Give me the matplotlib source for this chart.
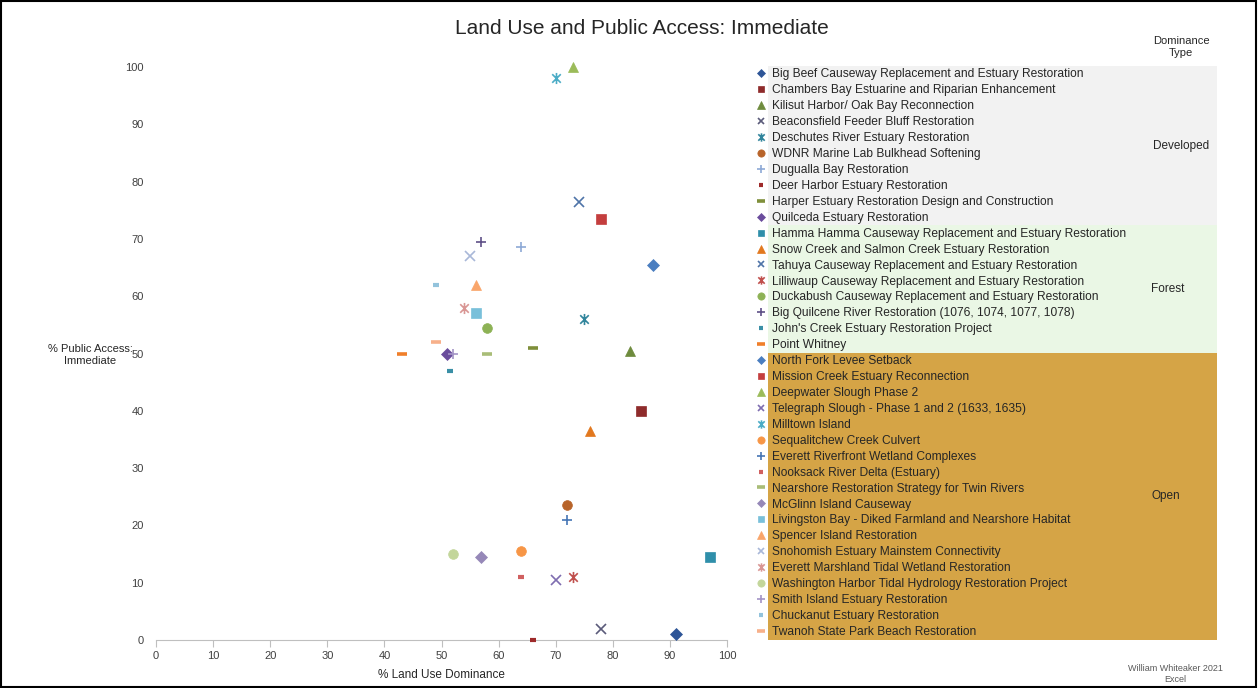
import matplotlib
matplotlib.use("Agg")
import matplotlib.pyplot as plt
from matplotlib.lines import Line2D
from matplotlib.patches import Rectangle
from matplotlib.path import Path

plt.rcParams['font.family'] = ['Liberation Sans', 'DejaVu Sans']

# projects, grouped by dominance type
projects = [
    "Big Beef Causeway Replacement and Estuary Restoration",
    "Chambers Bay Estuarine and Riparian Enhancement",
    "Kilisut Harbor/ Oak Bay Reconnection",
    "Beaconsfield Feeder Bluff Restoration",
    "Deschutes River Estuary Restoration",
    "WDNR Marine Lab Bulkhead Softening",
    "Dugualla Bay Restoration",
    "Deer Harbor Estuary Restoration",
    "Harper Estuary Restoration Design and Construction",
    "Quilceda Estuary Restoration",
    "Hamma Hamma Causeway Replacement and Estuary Restoration",
    "Snow Creek and Salmon Creek Estuary Restoration",
    "Tahuya Causeway Replacement and Estuary Restoration",
    "Lilliwaup Causeway Replacement and Estuary Restoration",
    "Duckabush Causeway Replacement and Estuary Restoration",
    "Big Quilcene River Restoration (1076, 1074, 1077, 1078)",
    "John's Creek Estuary Restoration Project",
    "Point Whitney",
    "North Fork Levee Setback",
    "Mission Creek Estuary Reconnection",
    "Deepwater Slough Phase 2",
    "Telegraph Slough - Phase 1 and 2 (1633, 1635)",
    "Milltown Island",
    "Sequalitchew Creek Culvert",
    "Everett Riverfront Wetland Complexes",
    "Nooksack River Delta (Estuary)",
    "Nearshore Restoration Strategy for Twin Rivers",
    "McGlinn Island Causeway",
    "Livingston Bay - Diked Farmland and Nearshore Habitat",
    "Spencer Island Restoration",
    "Snohomish Estuary Mainstem Connectivity",
    "Everett Marshland Tidal Wetland Restoration",
    "Washington Harbor Tidal Hydrology Restoration Project",
    "Smith Island Estuary Restoration",
    "Chuckanut Estuary Restoration",
    "Twanoh State Park Beach Restoration",
]
dominance_types = ["Developed", "Forest", "Open"]
dominance_counts = [10, 8, 18]

land_use = [91, 85, 83, 78, 75, 72, 64, 66, 66, 51,
            97, 76, 74, 73, 58, 57, 51.5, 43,
            87, 78, 73, 70, 70, 64, 72, 64, 58, 57, 56, 56, 55, 54, 52, 52, 49, 49]
public_access = [1, 40, 50.5, 2, 56, 23.5, 68.5, 0, 51, 50,
                 14.5, 36.5, 76.5, 11, 54.5, 69.5, 47, 50,
                 65.5, 73.5, 100, 10.5, 98, 15.5, 21, 11, 50, 14.5, 57, 62, 67, 58, 15, 50, 62, 52]

colors = ["#2E5597", "#8E2B2B", "#6E8B3D", "#5B5B7A", "#31859C", "#B8642A",
          "#8EA9D6", "#9E2A2A", "#7F8F3A", "#6A4C9C",
          "#2F8FAA", "#E2781E", "#4F74A8", "#C0504D", "#8DB255", "#5F5087",
          "#3A8FA6", "#F07F2A",
          "#4A7EC0", "#C43E3E", "#9BBB59", "#7E6DB0", "#4BACC6", "#F79646",
          "#4676B5", "#D06060", "#A9BD77", "#9688B8", "#79C0DA", "#F9A56A",
          "#A9B8D8", "#D99694", "#C3D69B", "#A394C6", "#93C3DC", "#F7B08A"]
band_colors = ["#F2F2F2", "#EAF7E5", "#D5A446"]

# excel-style star: an x with a vertical stroke
star = Path([(-1, -1), (1, 1), (-1, 1), (1, -1), (0, -1.3), (0, 1.3)],
            [Path.MOVETO, Path.LINETO, Path.MOVETO, Path.LINETO, Path.MOVETO, Path.LINETO])

# (marker, size, edge width, filled)
marker_cycle = [("D", 6.0, 0.5, True), ("s", 6.5, 0.5, True), ("^", 7.0, 0.5, True),
                ("x", 6.5, 1.2, False), (star, 8.0, 1.2, False), ("o", 7.0, 0.5, True),
                ("+", 7.5, 1.2, False), ("_", 4.0, 3.0, False), ("_", 7.0, 2.6, False)]

W, H = 1259, 688
fig = plt.figure(figsize=(W / 100, H / 100), dpi=100)
ax = fig.add_axes([156 / W, 1 - 640 / H, 571 / W, 573 / H])

handles = []
for i, name in enumerate(projects):
    m, ms, mew, filled = marker_cycle[i % len(marker_cycle)]
    c = colors[i]
    kw = dict(marker=m, markersize=ms, markeredgewidth=mew, linestyle="none",
              markeredgecolor=c, markerfacecolor=c if filled else "none")
    ax.plot([land_use[i]], [public_access[i]], clip_on=False, zorder=3, **kw)
    handles.append(Line2D([], [], color=c, label=name, **kw))

ax.set_xlim(0, 100)
ax.set_ylim(0, 100)
ax.set_xticks(range(0, 101, 10))
ax.set_yticks(range(0, 101, 10))
for s in ["top", "right", "left"]:
    ax.spines[s].set_visible(False)
ax.spines["bottom"].set_color("#BFBFBF")
ax.tick_params(axis="x", direction="out", length=5, color="#BFBFBF",
               labelsize=8, labelcolor="#404040", pad=3)
ax.tick_params(axis="y", length=0, labelsize=8, labelcolor="#404040", pad=9)
ax.set_xlabel("% Land Use Dominance", fontsize=8.5, color="#262626", labelpad=6)

fig.text(90 / W, 1 - 355 / H, "% Public Access:\nImmediate", ha="center", va="center",
         fontsize=8, color="#262626")
fig.text(642 / W, 1 - 28 / H, "Land Use and Public Access: Immediate", ha="center",
         va="center", fontsize=15, color="#262626")

# dominance bands behind the legend
row_h = 15.94
top = 66
start = 0
for name, n, bc in zip(dominance_types, dominance_counts, band_colors):
    y0 = top + start * row_h
    y1 = top + (start + n) * row_h
    fig.add_artist(Rectangle((768 / W, 1 - y1 / H), (1217 - 768) / W, (y1 - y0) / H,
                             transform=fig.transFigure, facecolor=bc, edgecolor="none",
                             zorder=0))
    label_x = {"Developed": 1181, "Forest": 1168, "Open": 1166}[name]
    fig.text(label_x / W, 1 - (y0 + y1) / 2 / H, name, ha="center", va="center",
             fontsize=8.5, color="#262626")
    start += n

fig.text(1181 / W, 1 - 47 / H, "Dominance\nType", ha="center", va="center",
         fontsize=8, color="#262626", linespacing=1.2)

leg = fig.legend(handles=handles, loc="upper left", bbox_to_anchor=(755 / W, 1 - 68.5 / H),
                 frameon=False, fontsize=8.65, labelspacing=0.327, handlelength=1.0,
                 handletextpad=0.4, borderpad=0, borderaxespad=0, markerscale=0.75)
for t in leg.get_texts():
    t.set_color("#262626")

fig.text(1175 / W, 1 - 674 / H, "William Whiteaker 2021\nExcel", ha="center", va="center",
         fontsize=6.5, color="#595959", linespacing=1.2)

fig.add_artist(Rectangle((0.001, 0.001), 0.997, 0.997, transform=fig.transFigure,
                         facecolor="none", edgecolor="black", linewidth=1.5))

fig.savefig("out.png", dpi=100, facecolor="white")
